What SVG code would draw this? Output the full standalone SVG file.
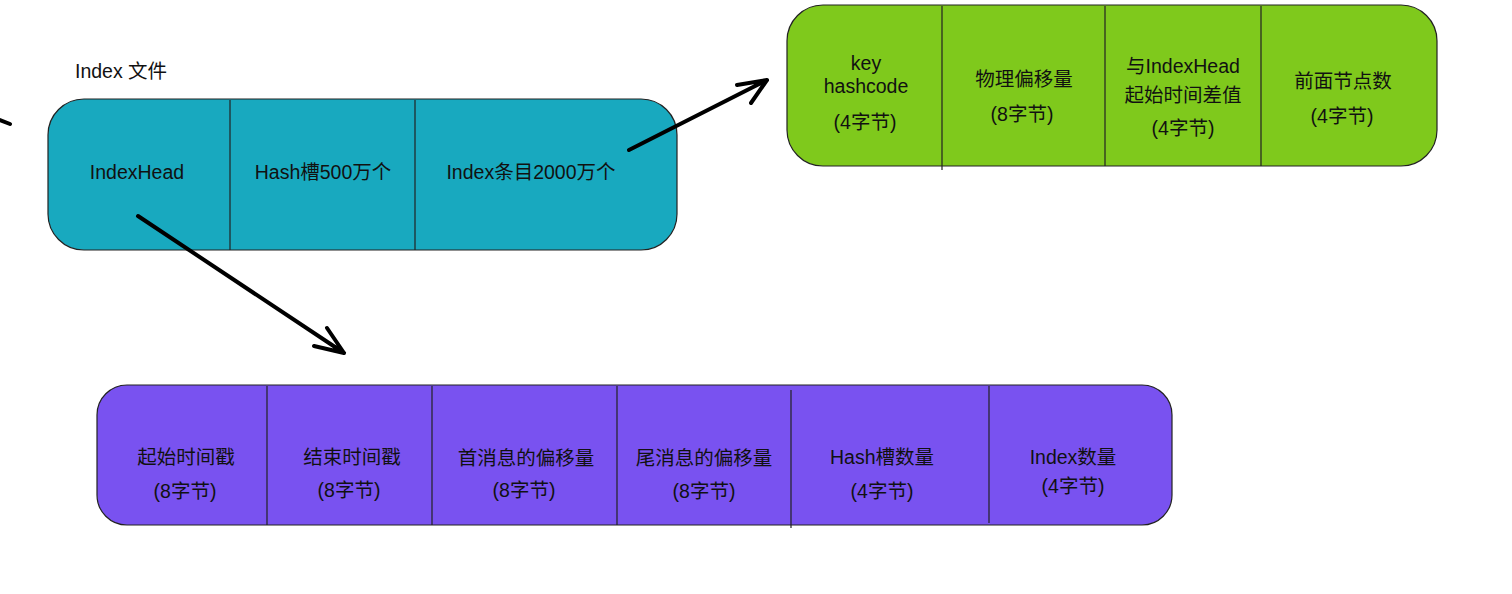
<svg xmlns="http://www.w3.org/2000/svg" width="1512" height="594" viewBox="0 0 1512 594">
<style>
text{font-family:"Liberation Sans","Noto Sans CJK SC",sans-serif;font-size:19.5px;fill:#111;text-anchor:middle}
.box{stroke:#222;stroke-width:1.2}
.div{stroke:#222;stroke-width:1.2}
.arr{stroke:#000;stroke-width:4;stroke-linecap:round;stroke-linejoin:round;fill:none}
</style>
<rect width="1512" height="594" fill="#fff"/>
<text x="75" y="78" style="text-anchor:start;font-size:19.5px">Index 文件</text>
<g id="index-file">
<rect class="box" x="48" y="99" width="629" height="151" rx="36" fill="#18A9BF"/>
<line class="div" x1="230" y1="100" x2="230" y2="250"/>
<line class="div" x1="415" y1="100" x2="415" y2="250"/>
<text x="137" y="179">IndexHead</text>
<text x="323" y="179">Hash槽500万个</text>
<text x="531" y="179">Index条目2000万个</text>
</g>
<g id="index-entry">
<rect class="box" x="787" y="5" width="650" height="161" rx="36" fill="#7FC91C"/>
<line class="div" x1="942" y1="6" x2="942" y2="170"/>
<line class="div" x1="1105" y1="6" x2="1105" y2="166"/>
<line class="div" x1="1261" y1="6" x2="1261" y2="166"/>
<text x="866" y="70">key</text>
<text x="866" y="93">hashcode</text>
<text x="865" y="129">(4字节)</text>
<text x="1024" y="86">物理偏移量</text>
<text x="1022" y="121">(8字节)</text>
<text x="1183" y="73">与IndexHead</text>
<text x="1183" y="102">起始时间差值</text>
<text x="1183" y="135">(4字节)</text>
<text x="1343" y="88">前面节点数</text>
<text x="1342" y="123">(4字节)</text>
</g>
<g id="index-head">
<rect class="box" x="97" y="385" width="1075" height="140" rx="30" fill="#7952F0"/>
<line class="div" x1="267" y1="386" x2="267" y2="525"/>
<line class="div" x1="432" y1="386" x2="432" y2="525"/>
<line class="div" x1="617" y1="386" x2="617" y2="525"/>
<line class="div" x1="791" y1="390" x2="791" y2="528"/>
<line class="div" x1="989" y1="386" x2="989" y2="523"/>
<text x="186" y="464">起始时间戳</text>
<text x="185" y="498">(8字节)</text>
<text x="352" y="464">结束时间戳</text>
<text x="349" y="497">(8字节)</text>
<text x="526" y="465">首消息的偏移量</text>
<text x="524" y="497">(8字节)</text>
<text x="704" y="465">尾消息的偏移量</text>
<text x="704" y="498">(8字节)</text>
<text x="882" y="464">Hash槽数量</text>
<text x="882" y="498">(4字节)</text>
<text x="1073" y="464">Index数量</text>
<text x="1073" y="493">(4字节)</text>
</g>
<g id="connectors">
<path class="arr" d="M629 150 L767 80 M737 85 L767 80 L751 103"/>
<path class="arr" d="M138 216 L344 353 M314 346 L344 353 L327 328"/>
<path class="arr" d="M0 120 L10 124"/>
</g>
</svg>
